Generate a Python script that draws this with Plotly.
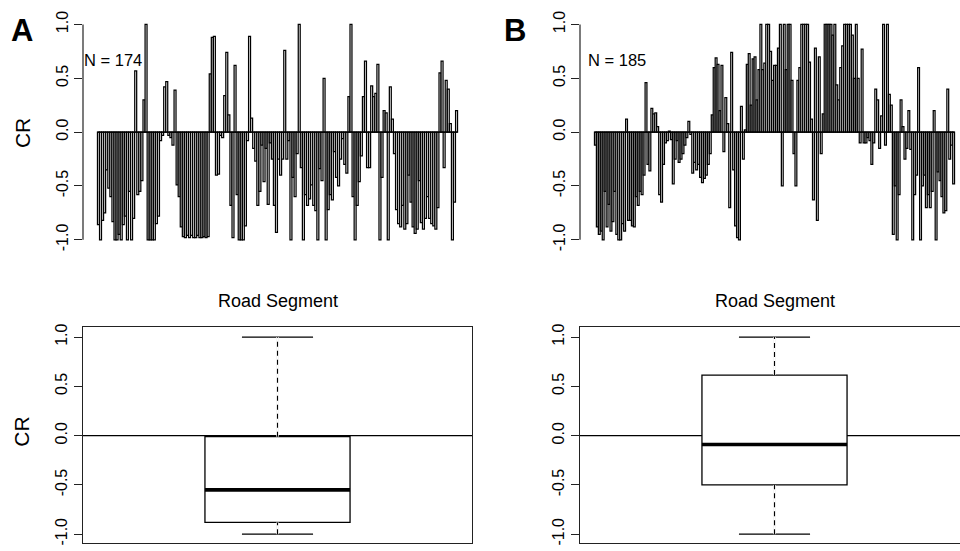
import plotly.graph_objects as go

W, H = 960, 551

# ---------------- data ----------------
cr_a = [
    -0.86, -1.0, -0.82, -0.75, -0.35, -0.52, -0.6, -0.83, -1.0, -1.0,
    -0.95, -1.0, -0.86, -0.78, -1.0, -0.55, -1.0, -0.8, 0.57, -0.58,
    -0.55, -0.45, 0.3, 1.0, -1.0, -1.0, -1.0, -1.0, -0.85, -0.78,
    -0.08, -0.03, 0.42, 0.47, -0.03, -0.05, -0.12, 0.39, -0.49, -0.6,
    -0.88, -0.97, -0.98, -0.96, -0.98, -0.96, -0.98, -0.98, -0.96, -0.98,
    -0.98, -0.97, -0.98, -0.97, 0.54, 0.88, 0.89, -0.4, -0.39, -0.03,
    -0.05, 0.34, 0.74, 0.16, -0.68, -0.98, 0.62, -0.58, -1.0, -1.0,
    -1.0, -0.87, -0.08, 0.89, 0.13, -0.15, -0.27, -0.68, -0.55, -0.12,
    -0.46, -0.15, -0.67, -0.1, -0.25, -0.68, -0.93, -0.25, -0.4, -0.25,
    0.76, -0.25, -0.08, -1.0, -0.42, -0.6, -0.2, 1.0, -0.33, -1.0,
    -0.58, -0.68, -0.62, -0.49, -0.68, -0.73, -1.0, -0.34, -0.45, 0.5,
    -1.0, -0.72, -0.58, -0.63, -0.18, -0.42, -0.5, -0.25, -0.06, -0.3,
    -0.38, 0.33, 1.0, -0.6, -1.0, -0.68, -0.46, -0.22, 0.33, 0.66,
    -0.33, -0.33, 0.43, 0.33, 0.36, 0.63, -1.0, -0.42, 0.2, 0.18,
    -1.0, 0.42, 0.12, -0.2, -0.72, -0.85, -0.88, -0.68, -0.9, -0.85,
    -0.4, -0.65, -0.88, -0.94, -0.9, -0.45, -0.84, -0.9, -0.8, -0.6,
    -0.8, -0.85, -0.87, -0.9, -0.7, 0.55, 0.66, -0.33, 0.48, 0.4,
    0.08, -1.0, -0.65, 0.2,
]

cr_b = [
    -0.12, -0.88, -0.95, -0.92, -1.0, -0.55, -0.88, -0.67, -0.92, -0.83,
    -0.55, -0.95, -1.0, -1.0, -0.85, -0.92, 0.12, -0.82, -0.82, -0.87,
    -0.88, -0.6, -0.68, -0.55, -0.58, -0.4, 0.46, -0.3, -0.36, 0.22,
    0.17, 0.18, 0.05, -0.58, -0.65, -0.3, -0.1, -0.08, 0.01, -0.07,
    -0.48, -0.25, -0.08, -0.28, -0.25, -0.2, -0.12, -0.05, 0.1, -0.02,
    -0.38, -0.28, -0.35, -0.3, -0.42, -0.47, -0.43, -0.4, -0.3, -0.2,
    0.16, 0.6, 0.69, 0.63, 0.2, 0.62, -0.18, 0.32, 0.08, -0.7,
    0.74, -0.35, -0.87, -0.98, -1.0, 0.24, -0.25, 0.02, 0.63, 0.73,
    0.25, 0.68, 0.7, 0.3, 0.58, 1.0, 0.58, 0.64, 1.0, 1.0,
    0.75, 0.48, 0.62, 0.62, 0.78, 1.0, -0.5, 1.0, 0.58, 1.0,
    1.0, 0.48, -0.2, -0.5, 0.48, 0.6, 1.0, 1.0, 1.0, 1.0,
    0.65, 0.12, -0.63, 0.78, -0.82, 0.7, -0.2, 0.17, 1.0, 1.0,
    1.0, 1.0, 0.9, 1.0, 0.44, 0.3, 0.6, 0.8, 1.0, 1.0,
    1.0, 1.0, 0.9, 0.5, 1.0, 0.5, -0.1, 0.77, -0.1, -0.1,
    -0.05, -0.08, -0.3, -0.1, 0.4, 0.3, -0.15, 0.15, 1.0, -0.12,
    1.0, 0.35, 0.25, -0.95, -0.5, -1.0, -0.58, 0.3, 0.05, -0.25,
    -0.15, 0.2, -0.16, -1.0, -0.58, -0.4, 0.6, -1.0, -0.5, -0.4,
    -0.7, -0.58, -0.7, -0.55, 0.2, -1.0, -0.37, -0.45, -0.6, -0.75,
    -0.73, 0.4, -0.25, -0.12, -0.48,
]

# box-plot summaries (lower whisker, Q1, median, Q3, upper whisker)
box_a = dict(low=-1.0, q1=-0.88, med=-0.55, q3=-0.01, high=1.0)
box_b = dict(low=-1.0, q1=-0.50, med=-0.09, q3=0.615, high=1.0)

panel_letters = ["A", "B"]
n_labels = [f"N = {len(cr_a)}", f"N = {len(cr_b)}"]
tick_vals = [-1.0, -0.5, 0.0, 0.5, 1.0]
tick_text = ["-1.0", "-0.5", "0.0", "0.5", "1.0"]
x_title = "Road Segment"
y_title = "CR"

FONT = "Liberation Sans, Arial, Helvetica, sans-serif"


def px(x):
    return x / W


def py(y):
    return 1 - y / H


fig = go.Figure()

# ---------------- bar charts ----------------
for data, xa, ya in [(cr_a, "x", "y"), (cr_b, "x2", "y2")]:
    fig.add_trace(go.Bar(
        x=list(range(1, len(data) + 1)), y=data,
        marker=dict(color="white", line=dict(color="black", width=1.25)),
        xaxis=xa, yaxis=ya, showlegend=False, hoverinfo="y",
    ))
    # baseline under the bars
    fig.add_shape(type="line", xref=xa, yref=ya, x0=0.5, x1=len(data) + 0.5,
                  y0=0, y1=0, line=dict(color="black", width=1.4))
    # y axis line from -1 to 1 (R style)
    fig.add_shape(type="line", xref=f"{xa} domain", yref=ya, x0=0, x1=0,
                  y0=tick_vals[0], y1=tick_vals[-1], line=dict(color="#222", width=1.2))

# ---------------- box plots ----------------
BOX_W = 0.373
for stats, xa, ya in [(box_a, "x3", "y3"), (box_b, "x4", "y4")]:
    fig.add_trace(go.Box(
        x=[1], q1=[stats["q1"]], median=[stats["med"]], q3=[stats["q3"]],
        lowerfence=[stats["low"]], upperfence=[stats["high"]],
        width=BOX_W, whiskerwidth=0.49, fillcolor="white",
        line=dict(color="black", width=1.3), boxpoints=False,
        xaxis=xa, yaxis=ya, showlegend=False, hoverinfo="y",
    ))
    # dashed whiskers (cover the solid whisker first)
    for y0, y1 in [(stats["q3"], stats["high"]), (stats["low"], stats["q1"])]:
        fig.add_trace(go.Scatter(x=[1, 1], y=[y0, y1], mode="lines",
                                 line=dict(color="white", width=2.4),
                                 xaxis=xa, yaxis=ya, showlegend=False, hoverinfo="skip"))
        fig.add_trace(go.Scatter(x=[1, 1], y=[y0, y1], mode="lines",
                                 line=dict(color="black", width=1.1, dash="5px,4px"),
                                 xaxis=xa, yaxis=ya, showlegend=False, hoverinfo="skip"))
    # thick median
    fig.add_trace(go.Scatter(x=[1 - BOX_W / 2, 1 + BOX_W / 2], y=[stats["med"]] * 2,
                             mode="lines", line=dict(color="black", width=3.6),
                             xaxis=xa, yaxis=ya, showlegend=False, hoverinfo="skip"))
    # horizontal reference line at 0
    fig.add_shape(type="line", xref=f"{xa} domain", yref=ya, x0=0, x1=1, y0=0, y1=0,
                  line=dict(color="black", width=1.2), layer="below")

# ---------------- axes ----------------
yaxis_common = dict(
    tickvals=tick_vals, ticktext=tick_text, ticks="outside", ticklen=8,
    tickcolor="#222", tickwidth=1.2, tickangle=-90,
    tickfont=dict(family=FONT, size=16, color="black"),
    showgrid=False, zeroline=False, fixedrange=True,
)
bar_dom_y = [py(247), py(11)]
box_dom_y = [py(546), py(327)]
dom_a = [px(83), px(472)]
dom_b = [px(580), 1.0]
b_frac = (960 - 580) / 389.0

n_a, n_b = len(cr_a), len(cr_b)
ext_a, ext_b = 0.04 * n_a, 0.04 * n_b
span_b = (n_b + 2 * ext_b)

fig.update_layout(
    width=W, height=H, margin=dict(l=0, r=0, t=0, b=0),
    paper_bgcolor="white", plot_bgcolor="white", bargap=0.06,
    showlegend=False,
    xaxis=dict(domain=dom_a, anchor="y", range=[0.5 - ext_a, n_a + 0.5 + ext_a],
               visible=False, fixedrange=True),
    yaxis=dict(domain=bar_dom_y, anchor="x", range=[-1.08, 1.08], showline=False, **yaxis_common),
    xaxis2=dict(domain=dom_b, anchor="y2",
                range=[0.5 - ext_b, 0.5 - ext_b + span_b * b_frac],
                visible=False, fixedrange=True),
    yaxis2=dict(domain=bar_dom_y, anchor="x2", range=[-1.08, 1.08], showline=False, **yaxis_common),
    xaxis3=dict(domain=dom_a, anchor="y3", range=[0.5, 1.5], showticklabels=False,
                ticks="", showline=True, mirror=True, linecolor="#222", linewidth=1.3,
                showgrid=False, zeroline=False, fixedrange=True),
    yaxis3=dict(domain=box_dom_y, anchor="x3", range=[-1.09, 1.1], showline=True,
                mirror=True, linecolor="#222", linewidth=1.3, **yaxis_common),
    xaxis4=dict(domain=dom_b, anchor="y4", range=[0.5, 0.5 + b_frac], showticklabels=False,
                ticks="", showline=True, mirror=True, linecolor="#222", linewidth=1.3,
                showgrid=False, zeroline=False, fixedrange=True),
    yaxis4=dict(domain=box_dom_y, anchor="x4", range=[-1.09, 1.1], showline=True,
                mirror=False, linecolor="#222", linewidth=1.3, **yaxis_common),
)

# ---------------- text ----------------
ann = []
for letter, x in zip(panel_letters, [9, 502]):
    ann.append(dict(text=f"<b>{letter}</b>", x=px(x), y=py(26), xanchor="left", yanchor="middle",
                    font=dict(family=FONT, size=31, color="black")))
for lab, x in zip(n_labels, [82, 586]):
    ann.append(dict(text=lab, x=px(x), y=py(56), xanchor="left", yanchor="middle",
                    font=dict(family=FONT, size=16.5, color="black")))
for x in [277.5, 774.5]:
    ann.append(dict(text=x_title, x=px(x), y=py(300), xanchor="center", yanchor="middle",
                    font=dict(family=FONT, size=18, color="black")))
for y in [130, 433]:
    ann.append(dict(text=y_title, x=px(22), y=py(y), xanchor="center", yanchor="middle",
                    textangle=-90, font=dict(family=FONT, size=21, color="black")))
for a in ann:
    a.update(xref="paper", yref="paper", showarrow=False)
fig.update_layout(annotations=ann)

fig.write_html(
    "out.html",
    config={"displayModeBar": False},
    post_script="document.body.style.margin='0';document.body.style.overflow='hidden';",
)
